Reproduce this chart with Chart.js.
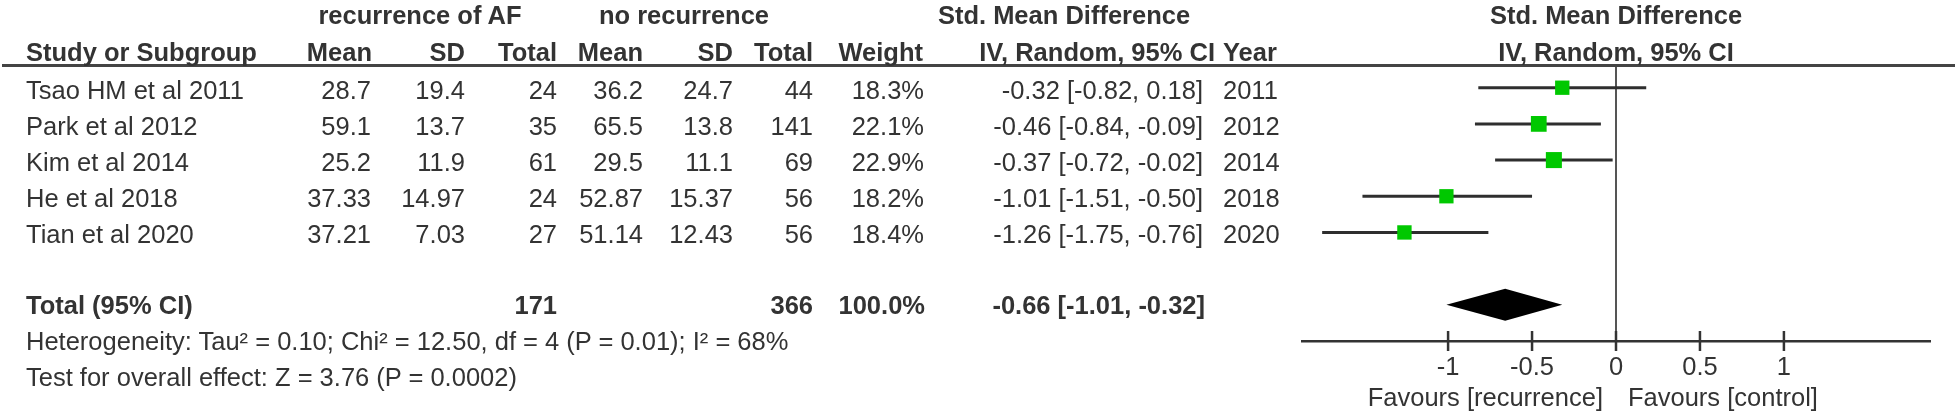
<!DOCTYPE html>
<html>
<head>
<meta charset="utf-8">
<script src="https://cdn.jsdelivr.net/npm/chart.js@4"></script>
<style>
  body { margin: 0; background: #fff; }
  #wrap { position: relative; width: 1957px; height: 418px; overflow: hidden; }
  #forest { position: absolute; left: 0; top: 0; }
  .t { position: absolute; white-space: nowrap; font-family: 'Liberation Sans', Arial, sans-serif; font-size: 25.5px; line-height: 1; color: #333; }
  .b { font-weight: bold; }
</style>
</head>
<body>
<div id="wrap"><canvas id="forest" width="1957" height="418"></canvas></div>
<script>
// study data
var studies = ['Tsao HM et al 2011', 'Park et al 2012', 'Kim et al 2014', 'He et al 2018', 'Tian et al 2020'];
var recMean = [28.7, 59.1, 25.2, 37.33, 37.21];
var recSD = [19.4, 13.7, 11.9, 14.97, 7.03];
var recTotal = [24, 35, 61, 24, 27];
var noMean = [36.2, 65.5, 29.5, 52.87, 51.14];
var noSD = [24.7, 13.8, 11.1, 15.37, 12.43];
var noTotal = [44, 141, 69, 56, 56];
var weights = [18.3, 22.1, 22.9, 18.2, 18.4];
var smd = [-0.32, -0.46, -0.37, -1.01, -1.26];
var ciLow = [-0.82, -0.84, -0.72, -1.51, -1.75];
var ciHigh = [0.18, -0.09, -0.02, -0.50, -0.76];
var years = [2011, 2012, 2014, 2018, 2020];

// pooled result: estimate, low, high
var pooled = [-0.66, -1.01, -0.32];
var pooledN = [171, 366];
var pooledWeight = 100.0;

var tickValues = [-1, -0.5, 0, 0.5, 1];
var heterogeneity = 'Heterogeneity: Tau\u00b2 = 0.10; Chi\u00b2 = 12.50, df = 4 (P = 0.01); I\u00b2 = 68%';
var overallEffect = 'Test for overall effect: Z = 3.76 (P = 0.0002)';
var favours = ['Favours [recurrence]', 'Favours [control]'];

var TOTAL_ROW = 6;
var FONT = "'Liberation Sans', Arial, sans-serif";
var wrap = document.getElementById('wrap');

function fmtCI(e, lo, hi) {
    return e.toFixed(2) + ' [' + lo.toFixed(2) + ', ' + hi.toFixed(2) + ']';
}

function addText(str, x, y, align, bold) {
    var d = document.createElement('div');
    d.className = 't' + (bold ? ' b' : '');
    d.textContent = str;
    d.style.left = x + 'px';
    d.style.top = y + 'px';
    var tx = align === 'right' ? '-100%' : (align === 'center' ? '-50%' : '0');
    d.style.transform = 'translate(' + tx + ',-50%)';
    wrap.appendChild(d);
}

// squares first so they sit on top of the CI lines
var datasets = [{
    label: 'SMD',
    data: smd.map(function (v, i) { return { x: v, y: i }; }),
    pointStyle: 'rect',
    pointRadius: weights.map(function (w) { return Math.sqrt(w) * 3.35 / Math.SQRT2; }),
    pointBackgroundColor: '#00c800',
    pointBorderWidth: 0,
    showLine: false,
    order: 0
}];
studies.forEach(function (s, i) {
    datasets.push({
        label: s,
        data: [{ x: ciLow[i], y: i }, { x: ciHigh[i], y: i }],
        showLine: true,
        borderColor: '#2e2e2e',
        borderWidth: 3,
        pointRadius: 0,
        order: 1
    });
});

var forestExtras = {
    id: 'forestExtras',
    afterDatasetsDraw: function (chart) {
        var ctx = chart.ctx, xs = chart.scales.x, ys = chart.scales.y, area = chart.chartArea;
        ctx.save();
        // header rule
        ctx.fillStyle = '#444';
        ctx.fillRect(2, area.top - 2, 1953, 3);
        // pooled diamond
        var yc = ys.getPixelForValue(TOTAL_ROW);
        ctx.fillStyle = '#000';
        ctx.beginPath();
        ctx.moveTo(xs.getPixelForValue(pooled[1]), yc);
        ctx.lineTo(xs.getPixelForValue(pooled[0]), yc - 16);
        ctx.lineTo(xs.getPixelForValue(pooled[2]), yc);
        ctx.lineTo(xs.getPixelForValue(pooled[0]), yc + 16);
        ctx.closePath();
        ctx.fill();
        // tick marks crossing the axis
        ctx.strokeStyle = '#333';
        ctx.lineWidth = 2.5;
        tickValues.forEach(function (v) {
            var px = xs.getPixelForValue(v);
            ctx.beginPath();
            ctx.moveTo(px, area.bottom - 10);
            ctx.lineTo(px, area.bottom + 10);
            ctx.stroke();
        });
        ctx.restore();
    }
};

var textDone = false;
var tableText = {
    id: 'tableText',
    afterRender: function (chart) {
        if (textDone) return;
        textDone = true;
        var ys = chart.scales.y, xs = chart.scales.x, area = chart.chartArea;
        function rowY(r) { return ys.getPixelForValue(r) + 1; }
        var mid = (area.left + area.right) / 2;

        // group headers
        addText('recurrence of AF', 420, rowY(-2), 'center', true);
        addText('no recurrence', 684, rowY(-2), 'center', true);
        addText('Std. Mean Difference', 1064, rowY(-2), 'center', true);
        addText('Std. Mean Difference', mid, rowY(-2), 'center', true);

        // column headers
        addText('Study or Subgroup', 26, rowY(-1), 'left', true);
        addText('Mean', 372, rowY(-1), 'right', true);
        addText('SD', 465, rowY(-1), 'right', true);
        addText('Total', 557, rowY(-1), 'right', true);
        addText('Mean', 643, rowY(-1), 'right', true);
        addText('SD', 733, rowY(-1), 'right', true);
        addText('Total', 813, rowY(-1), 'right', true);
        addText('Weight', 923, rowY(-1), 'right', true);
        addText('IV, Random, 95% CI', 1215, rowY(-1), 'right', true);
        addText('Year', 1223, rowY(-1), 'left', true);
        addText('IV, Random, 95% CI', mid, rowY(-1), 'center', true);

        studies.forEach(function (s, i) {
            var y = rowY(i) + 2;
            addText(s, 26, y, 'left');
            addText(String(recMean[i]), 371, y, 'right');
            addText(String(recSD[i]), 465, y, 'right');
            addText(String(recTotal[i]), 557, y, 'right');
            addText(String(noMean[i]), 643, y, 'right');
            addText(String(noSD[i]), 733, y, 'right');
            addText(String(noTotal[i]), 813, y, 'right');
            addText(weights[i].toFixed(1) + '%', 924, y, 'right');
            addText(fmtCI(smd[i], ciLow[i], ciHigh[i]), 1203, y, 'right');
            addText(String(years[i]), 1223, y, 'left');
        });

        var ty = rowY(TOTAL_ROW);
        addText('Total (95% CI)', 26, ty, 'left', true);
        addText(String(pooledN[0]), 557, ty, 'right', true);
        addText(String(pooledN[1]), 813, ty, 'right', true);
        addText(pooledWeight.toFixed(1) + '%', 925, ty, 'right', true);
        addText(fmtCI(pooled[0], pooled[1], pooled[2]), 1205, ty, 'right', true);
        addText(heterogeneity, 26, rowY(TOTAL_ROW + 1), 'left');
        addText(overallEffect, 26, rowY(TOTAL_ROW + 2), 'left');

        // favours labels under the axis
        var zero = xs.getPixelForValue(0);
        addText(favours[0], zero - 13, area.bottom + 57, 'right');
        addText(favours[1], zero + 12, area.bottom + 57, 'left');
    }
};

var chart = new Chart(document.getElementById('forest'), {
    type: 'scatter',
    data: { datasets: datasets },
    options: {
        responsive: false,
        animation: false,
        layout: { padding: { left: 1302, right: 27, top: 66, bottom: 0 } },
        plugins: { legend: { display: false }, tooltip: { enabled: false } },
        scales: {
            x: {
                type: 'linear',
                min: -1.87,
                max: 1.87,
                afterBuildTicks: function (s) { s.ticks = tickValues.map(function (v) { return { value: v }; }); },
                afterFit: function (s) { s.height = 77; },
                grid: {
                    drawTicks: false,
                    lineWidth: 2,
                    color: function (c) { return c.tick && c.tick.value === 0 ? '#555' : 'rgba(0,0,0,0)'; }
                },
                border: { color: '#333', width: 2.5 },
                ticks: {
                    padding: 12,
                    color: '#333',
                    font: { family: FONT, size: 25.5 },
                    callback: function (v) { return String(v); }
                }
            },
            y: {
                type: 'linear',
                reverse: true,
                min: -0.6,
                max: 7,
                display: false
            }
        }
    },
    plugins: [forestExtras, tableText]
});
</script>
</body>
</html>
